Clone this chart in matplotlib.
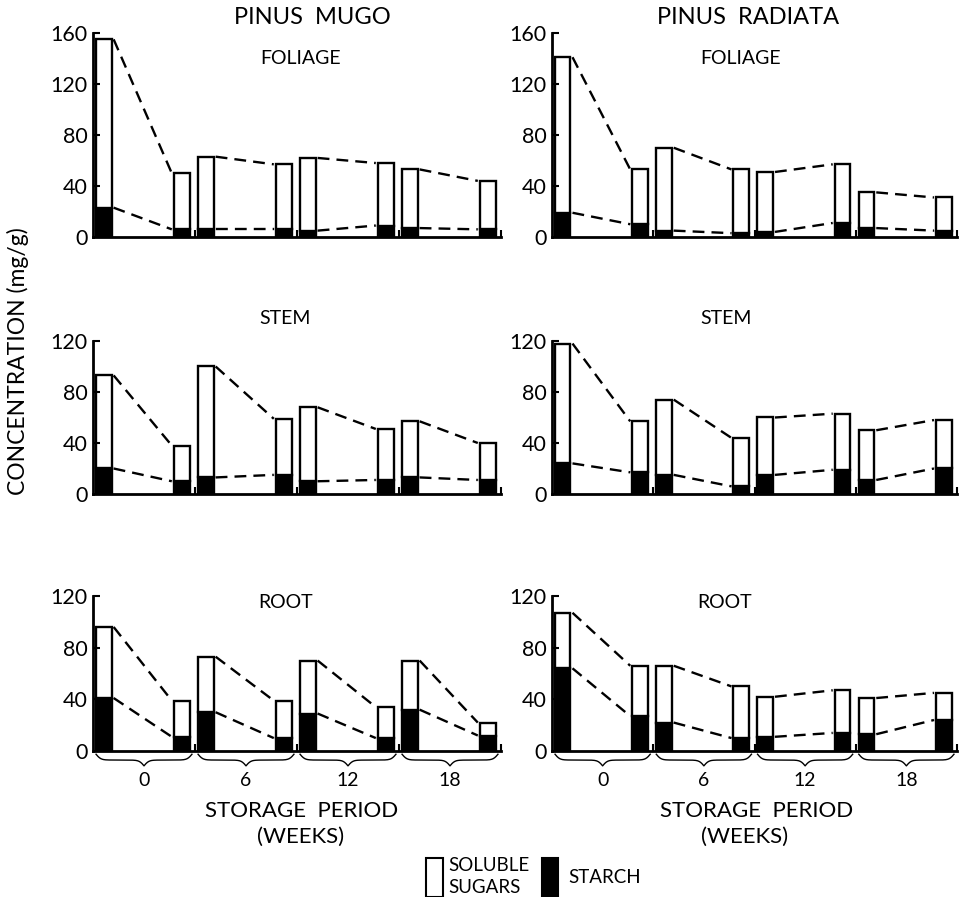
import matplotlib.pyplot as plt
from matplotlib.patches import Rectangle
import numpy as np

plt.rcParams['font.family'] = ['Lato', 'DejaVu Sans']

# Labels
species = ['PINUS  MUGO', 'PINUS  RADIATA']
tissues = ['FOLIAGE', 'STEM', 'ROOT']
weeks = ['0', '6', '12', '18']

# Total concentration (top of bar) and starch (black part), mg/g, 8 bars per panel
mugo_foliage_total = [155, 50, 63, 57, 62, 58, 53, 44]
mugo_foliage_starch = [23, 6, 6, 6, 5, 9, 7, 6]
mugo_stem_total = [93, 38, 100, 59, 68, 51, 57, 40]
mugo_stem_starch = [20, 10, 13, 15, 10, 11, 13, 11]
mugo_root_total = [96, 39, 73, 39, 70, 34, 70, 22]
mugo_root_starch = [41, 11, 30, 10, 29, 10, 32, 12]

radiata_foliage_total = [141, 53, 70, 53, 51, 57, 35, 31]
radiata_foliage_starch = [19, 10, 5, 3, 4, 11, 7, 5]
radiata_stem_total = [118, 57, 74, 44, 60, 63, 50, 58]
radiata_stem_starch = [24, 17, 15, 6, 15, 19, 11, 20]
radiata_root_total = [107, 66, 66, 50, 42, 47, 41, 45]
radiata_root_starch = [64, 27, 22, 10, 11, 14, 13, 24]

data = [
    [(mugo_foliage_total, mugo_foliage_starch),
     (mugo_stem_total, mugo_stem_starch),
     (mugo_root_total, mugo_root_starch)],
    [(radiata_foliage_total, radiata_foliage_starch),
     (radiata_stem_total, radiata_stem_starch),
     (radiata_root_total, radiata_root_starch)],
]
ymax = [160, 120, 120]

W, H = 960, 897
fig = plt.figure(figsize=(W / 100, H / 100), dpi=100)


def fx(x):
    return x / W


def fy(y):
    return 1 - y / H


# panel frames in pixels
col_x = [(93, 501), (552, 957)]
row_y = [(33, 237), (341, 494), (596, 751)]

offsets = [0.105, 0.87]
bw = 0.155
dash = (0, (5, 3))


def brace(ax, x0, x1, y0, h, beta=40):
    u = np.linspace(0, 0.5, 100)
    half = 1 / (1 + np.exp(-beta * u)) + 1 / (1 + np.exp(-beta * (u - 0.5))) - 0.5
    xs = np.concatenate([u, u + 0.5])
    ys = np.concatenate([half, half[::-1]])
    ax.plot(x0 + xs * (x1 - x0), y0 - h * ys, color='black', lw=1.0, clip_on=False)


for c in range(2):
    x0, x1 = col_x[c]
    for r in range(3):
        yt, yb = row_y[r]
        ax = fig.add_axes([fx(x0), fy(yb), (x1 - x0) / W, (yb - yt) / H])
        total = np.array(data[c][r][0])
        starch = np.array(data[c][r][1])
        pos = np.array([g + o for g in range(4) for o in offsets])

        ax.bar(pos, starch, width=bw, color='black', edgecolor='black', lw=1.7)
        ax.bar(pos, total - starch, bottom=starch, width=bw, color='white',
               edgecolor='black', lw=1.7)

        # dashed lines joining each pair of bars
        for i in range(0, 8, 2):
            xa, xb = pos[i] + bw / 2 + 0.02, pos[i + 1] - bw / 2 - 0.02
            ax.plot([xa, xb], [total[i], total[i + 1]], ls=dash, color='black', lw=1.7)
            ax.plot([xa, xb], [starch[i], starch[i + 1]], ls=dash, color='black', lw=1.7)

        ax.set_xlim(0, 4)
        ax.set_ylim(0, ymax[r])
        ax.spines[['top', 'right']].set_visible(False)
        ax.spines[['left', 'bottom']].set_linewidth(2)
        ax.set_xticks([1, 2, 3, 4])
        ax.tick_params(axis='x', direction='in', length=5, width=1.5, labelbottom=False)
        ax.set_yticks(range(0, ymax[r] + 1, 40))
        ax.tick_params(axis='y', direction='in', length=5, width=1.5, labelsize=15.5, pad=4)

        if r == 2:
            for g in range(4):
                brace(ax, g + 0.03, g + 0.97, -2.5, 9)
                ax.text(g + 0.5, -22.5, weeks[g], ha='center', va='center',
                        fontsize=14, clip_on=False)

# Titles and panel names
fig.text(fx(312), fy(18), species[0], ha='center', va='center', fontsize=17)
fig.text(fx(748), fy(18), species[1], ha='center', va='center', fontsize=17)
tissue_pos = [[(301, 58), (285, 318), (286, 603)], [(741, 58), (726, 318), (725, 603)]]
for c in range(2):
    for r in range(3):
        x, y = tissue_pos[c][r]
        fig.text(fx(x), fy(y), tissues[r], ha='center', va='center', fontsize=14)

# Axis labels
fig.text(fx(18), fy(361), 'CONCENTRATION (mg/g)', rotation=90, ha='center',
         va='center', fontsize=16.5)
fig.text(fx(302), fy(811), 'STORAGE  PERIOD', ha='center', va='center', fontsize=16)
fig.text(fx(301), fy(837), '(WEEKS)', ha='center', va='center', fontsize=16)
fig.text(fx(757), fy(811), 'STORAGE  PERIOD', ha='center', va='center', fontsize=16)
fig.text(fx(745), fy(837), '(WEEKS)', ha='center', va='center', fontsize=16)

# Legend
fig.patches.append(Rectangle((fx(426), fy(897)), 17 / W, 39 / H, transform=fig.transFigure,
                             facecolor='white', edgecolor='black', lw=1.5))
fig.patches.append(Rectangle((fx(542), fy(897)), 16 / W, 39 / H, transform=fig.transFigure,
                             facecolor='black', edgecolor='black', lw=1.5))
fig.text(fx(448), fy(865), 'SOLUBLE', ha='left', va='center', fontsize=13.5)
fig.text(fx(448), fy(887), 'SUGARS', ha='left', va='center', fontsize=13.5)
fig.text(fx(568), fy(877), 'STARCH', ha='left', va='center', fontsize=13.5)

fig.savefig('out.png', dpi=100)
